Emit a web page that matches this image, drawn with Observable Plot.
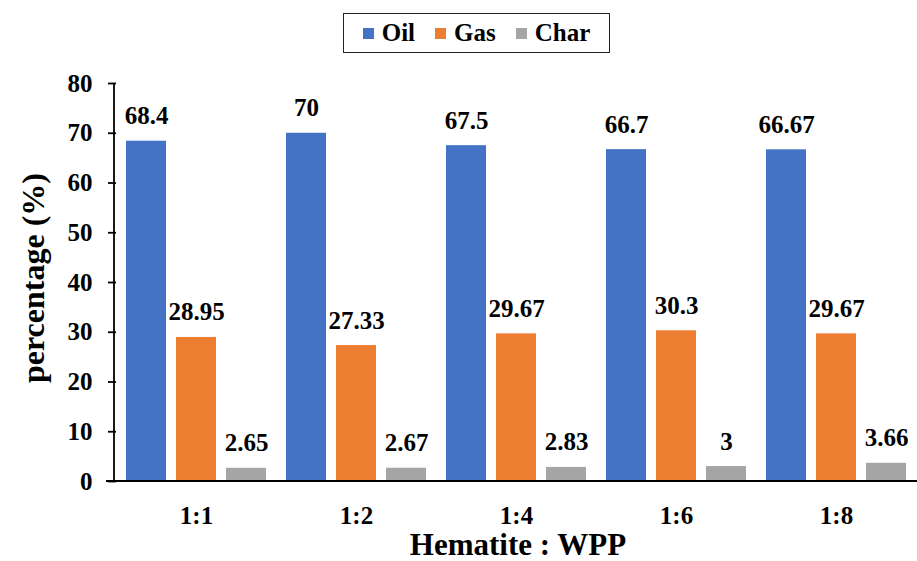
<!DOCTYPE html>
<html>
<head>
<meta charset="utf-8">
<script src="https://cdn.jsdelivr.net/npm/d3@7"></script>
<script src="https://cdn.jsdelivr.net/npm/@observablehq/plot@0.6"></script>
<style>
  html, body { margin: 0; padding: 0; background: #fff; }
  #wrap { position: relative; width: 917px; height: 561px; font-family: "Liberation Serif", "DejaVu Serif", serif; font-weight: bold; color: #000; }
  #legend { position: absolute; left: 343px; top: 13px; width: 267px; height: 40px; border: 1.5px solid #222; box-sizing: border-box;
            display: flex; align-items: center; justify-content: center; gap: 20px; font-size: 25px; }
  #legend span.sw { display: inline-block; width: 11px; height: 11px; margin-right: 8px; vertical-align: middle; position: relative; top: -2px; }
  #ytitle { position: absolute; left: 33px; top: 278px; transform: translate(-50%, -50%) rotate(-90deg); font-size: 32px; white-space: nowrap; line-height: 1; }
  #xtitle { position: absolute; left: 518px; top: 545px; transform: translate(-50%, -50%); font-size: 31px; white-space: nowrap; line-height: 0.9; }
  #chart { position: absolute; left: 0; top: 0; }
</style>
</head>
<body>
<div id="wrap">
  <div id="chart"></div>
  <div id="legend"></div>
  <div id="ytitle">percentage (%)</div>
  <div id="xtitle">Hematite : WPP</div>
</div>
<script>
// Hematite : WPP ratios and product yields (%)
const ratios = ["1:1", "1:2", "1:4", "1:6", "1:8"];
const series = ["Oil", "Gas", "Char"];
const oil = [68.4, 70, 67.5, 66.7, 66.67];
const gas = [28.95, 27.33, 29.67, 30.3, 29.67];
const charYield = [2.65, 2.67, 2.83, 3, 3.66];
const colors = ["#4472C4", "#ED7D31", "#A5A5A5"];
const yTicks = [0, 10, 20, 30, 40, 50, 60, 70, 80];

const valuesBySeries = { Oil: oil, Gas: gas, Char: charYield };
const data = [];
ratios.forEach((r, i) => series.forEach(s => data.push({ ratio: r, series: s, value: valuesBySeries[s][i] })));

const W = 917, H = 561, mTop = 83, mBottom = 80, mLeft = 114, mRight = 0;
const font = "'Liberation Serif', 'DejaVu Serif', serif";

const chart = Plot.plot({
  width: W,
  height: H,
  marginTop: mTop,
  marginBottom: mBottom,
  marginLeft: mLeft,
  marginRight: mRight,
  style: { fontFamily: font, fontSize: "25px", fontWeight: "bold", color: "#000", background: "transparent", overflow: "visible" },
  fx: { domain: ratios, paddingInner: 0, paddingOuter: 0, axis: "bottom", tickSize: 0, tickPadding: 25, label: null },
  x: { domain: series, paddingInner: 0.2, paddingOuter: 0.18, axis: null },
  y: { domain: [0, 80], ticks: yTicks, tickSize: 8, tickPadding: 16, label: null, tickFormat: d => d },
  color: { domain: series, range: colors },
  marks: [
    Plot.barY(data, { fx: "ratio", x: "series", y: "value", fill: "series" }),
    Plot.text(data, { fx: "ratio", x: "series", y: "value", text: d => String(d.value), dy: -17, lineAnchor: "bottom",
                      fontSize: 25, fontWeight: "bold", fontFamily: font, fill: "#000" })
  ]
});
document.getElementById("chart").appendChild(chart);

// axis lines: left spine and baseline across the full width
const y = chart.scale("y");
const yPx = v => y.range[0] + (v - y.domain[0]) / (y.domain[1] - y.domain[0]) * (y.range[1] - y.range[0]);
const svg = d3.select(chart.tagName.toLowerCase() === "svg" ? chart : chart.querySelector("svg"));
svg.append("line").attr("x1", mLeft).attr("x2", mLeft).attr("y1", yPx(80)).attr("y2", yPx(0))
  .attr("stroke", "#000").attr("stroke-width", 1.8);
svg.append("line").attr("x1", mLeft - 8).attr("x2", W).attr("y1", yPx(0)).attr("y2", yPx(0))
  .attr("stroke", "#000").attr("stroke-width", 1.8);
svg.selectAll("[aria-label='y-axis tick'] path, [aria-label='y-axis tick'] line").attr("stroke-width", 1.8);

// legend
const legend = d3.select("#legend");
series.forEach((s, i) => {
  const item = legend.append("div");
  item.append("span").attr("class", "sw").style("background", colors[i]);
  item.append("span").text(s);
});
</script>
</body>
</html>
